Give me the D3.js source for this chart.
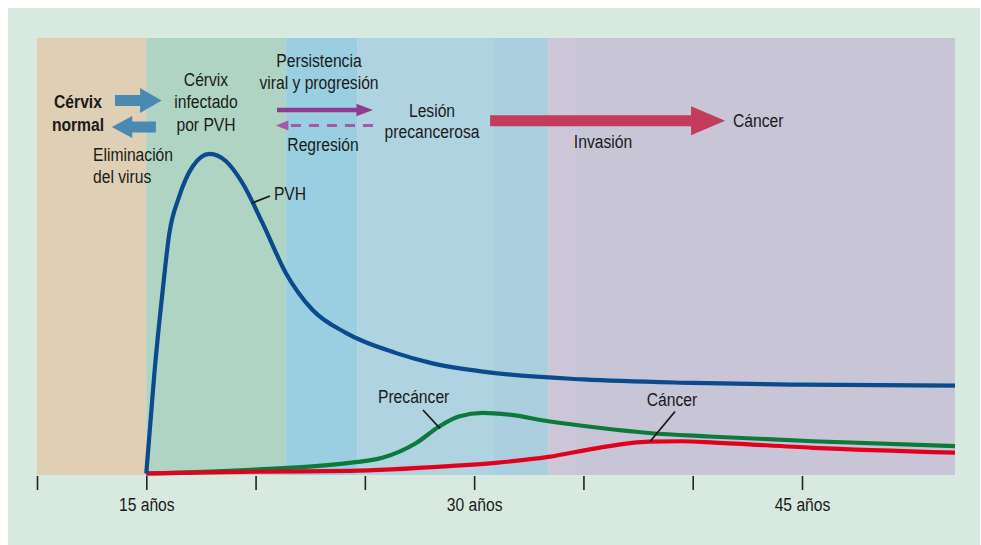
<!DOCTYPE html>
<html><head><meta charset="utf-8">
<script src="https://cdn.jsdelivr.net/npm/d3@7"></script>
<style>html,body{margin:0;padding:0;background:#fff;}svg{display:block;}</style>
</head><body>
<svg id="chart" width="981" height="545"></svg>
<script>
// ---- data ----
const tickYears = [10, 15, 20, 25, 30, 35, 40, 45];
const tickLabels = ["", "15 años", "", "", "30 años", "", "", "45 años"];

const bandStarts = [10, 15, 21.4, 24.65, 30.87, 33.39, 34.58];
const bandEnds   = [15, 21.4, 24.65, 30.87, 33.39, 34.58, 52];
const bandColors = ["#dfcfb4", "#b0d4c3", "#9acfe2", "#b0d3e1", "#abcfdf", "#cdc5d8", "#c8c5d7"];

const pvhYears  = [15, 15.37, 15.75, 16.05, 16.5, 17.12, 17.9, 18.65, 19.4, 20.32, 21.39, 22.6, 24.13, 26.4, 28, 30.4, 35, 40, 45, 52];
const pvhValues = [0, 23, 42, 55, 63.5, 70.5, 73.4, 71.7, 66.7, 57.5, 46, 37.6, 32.3, 27.7, 25.4, 23.4, 21.6, 20.8, 20.4, 20.2];

const preYears  = [15, 20, 24.3, 25.8, 27.35, 28.4, 29.3, 30.4, 31.6, 33.4, 35.7, 38, 40.75, 45.5, 52];
const preValues = [0, 0.9, 2.45, 3.6, 7, 10.8, 13.1, 13.9, 13.5, 12, 10.5, 9.3, 8.5, 7.4, 6.3];

const canYears  = [15, 20, 24.3, 28.85, 31.1, 33.4, 35.7, 38, 39.5, 41, 45.5, 52];
const canValues = [0, 0.4, 0.6, 1.7, 2.5, 3.8, 5.9, 7.3, 7.4, 7.1, 5.9, 4.8];

const seriesNames  = ["Precáncer", "Cáncer", "PVH"];
const seriesColors = ["#0b7a3b", "#e2001f", "#0b4a8b"];

// ---- setup ----
const svg = d3.select("#chart");
const X0 = 37, X1 = 955, YT = 38, YB = 475;
const x = d3.scaleLinear().domain([10, 52]).range([X0, X1]);
const y = d3.scaleLinear().domain([0, 100]).range([473.5, YT]);
const FONT = "'Liberation Sans', Arial, sans-serif";
const SX = 0.87;

svg.append("rect").attr("x", 8).attr("y", 8).attr("width", 972).attr("height", 537).attr("fill", "#d8e9df");

svg.append("g").selectAll("rect").data(bandStarts).join("rect")
  .attr("x", (d) => x(d)).attr("y", YT)
  .attr("width", (d, i) => x(bandEnds[i]) - x(d)).attr("height", YB - YT)
  .attr("fill", (d, i) => bandColors[i]);

// axis
const axis = d3.axisBottom(x).tickValues(tickYears).tickSize(14).tickPadding(0)
  .tickFormat((d, i) => tickLabels[i]);
const ag = svg.append("g").attr("transform", `translate(0,${YB + 1})`).call(axis);
ag.select(".domain").remove();
ag.selectAll(".tick line").attr("stroke", "#222").attr("stroke-width", 1.6);
ag.selectAll(".tick text").attr("fill", "#1a1a1a").attr("font-family", FONT).attr("font-size", 18)
  .attr("dy", null).attr("y", 0)
  .attr("transform", function () { return `translate(0,35) scale(${SX},1)`; });

// curves
const line = d3.line().x((d) => x(d[0])).y((d) => y(d[1])).curve(d3.curveMonotoneX);
const series = [
  d3.zip(preYears, preValues),
  d3.zip(canYears, canValues),
  d3.zip(pvhYears, pvhValues)
];
svg.append("g").selectAll("path").data(series).join("path")
  .attr("d", line).attr("fill", "none")
  .attr("stroke", (d, i) => seriesColors[i]).attr("stroke-width", 4.2)
  .attr("stroke-linecap", "butt");

// text helper
function label(px, py, lines, opts = {}) {
  const g = svg.append("g").attr("transform", `translate(${px},${py}) scale(${SX},1)`);
  const t = g.append("text").attr("font-family", FONT).attr("font-size", opts.size || 18)
    .attr("fill", "#1a1a1a").attr("text-anchor", opts.anchor || "middle")
    .attr("font-weight", opts.bold ? "bold" : "normal");
  lines.forEach((s, i) => t.append("tspan").attr("x", 0).attr("y", i * (opts.lh || 22.5)).text(s));
}

// series labels with leaders
function leader(x1, y1, x2, y2) {
  svg.append("line").attr("x1", x1).attr("y1", y1).attr("x2", x2).attr("y2", y2)
    .attr("stroke", "#1a1a1a").attr("stroke-width", 1.8);
}
leader(x(19.84), 203, x(20.66), 196);
label(x(20.84), 199.5, [seriesNames[2]], { anchor: "start" });
leader(x(28.44), 428.5, x(27.66), 410);
label(x(25.6), 402.5, [seriesNames[0]], { anchor: "start" });
leader(x(38.05), 441.5, x(39.19), 411.5);
label(x(37.9), 405.5, [seriesNames[1]], { anchor: "start" });

// block arrows
function blockArrow(xs, xe, yc, shaftH, headL, headH, color) {
  const dir = xe > xs ? 1 : -1;
  const xb = xe - dir * headL;
  const pts = [[xs, yc - shaftH / 2], [xb, yc - shaftH / 2], [xb, yc - headH / 2], [xe, yc],
    [xb, yc + headH / 2], [xb, yc + shaftH / 2], [xs, yc + shaftH / 2]];
  svg.append("path").attr("d", d3.line()(pts) + "Z").attr("fill", color);
}
blockArrow(x(13.57), x(15.7), 100.5, 11, 21.5, 25, "#4a8ab2");
blockArrow(x(15.44), x(13.42), 127, 11, 20.5, 22, "#4a8ab2");
blockArrow(x(20.98), x(25.37), 110, 4.5, 16.5, 12.5, "#8e3c8e");
blockArrow(x(30.73), x(41.48), 120.7, 11, 34, 29, "#c43c5c");

// dashed regression arrow
svg.append("line").attr("x1", x(25.37)).attr("y1", 125.5).attr("x2", x(21.44)).attr("y2", 125.5)
  .attr("stroke", "#a757a7").attr("stroke-width", 3).attr("stroke-dasharray", "10,8");
svg.append("path").attr("d", d3.line()([[x(20.93), 125.5], [x(21.5), 120.5], [x(21.5), 130.5]]) + "Z")
  .attr("fill", "#a757a7");

// annotation texts
label(78, 108.3, ["Cérvix", "normal"], { bold: true });
label(206, 86, ["Cérvix", "infectado", "por PVH"]);
label(93, 161, ["Eliminación", "del virus"], { anchor: "start" });
label(319, 66.7, ["Persistencia", "viral y progresión"]);
label(323, 150.5, ["Regresión"]);
label(432, 116.7, ["Lesión", "precancerosa"], { lh: 21.7 });
label(603, 148, ["Invasión"]);
label(733, 127, ["Cáncer"], { anchor: "start" });
</script>
</body></html>
